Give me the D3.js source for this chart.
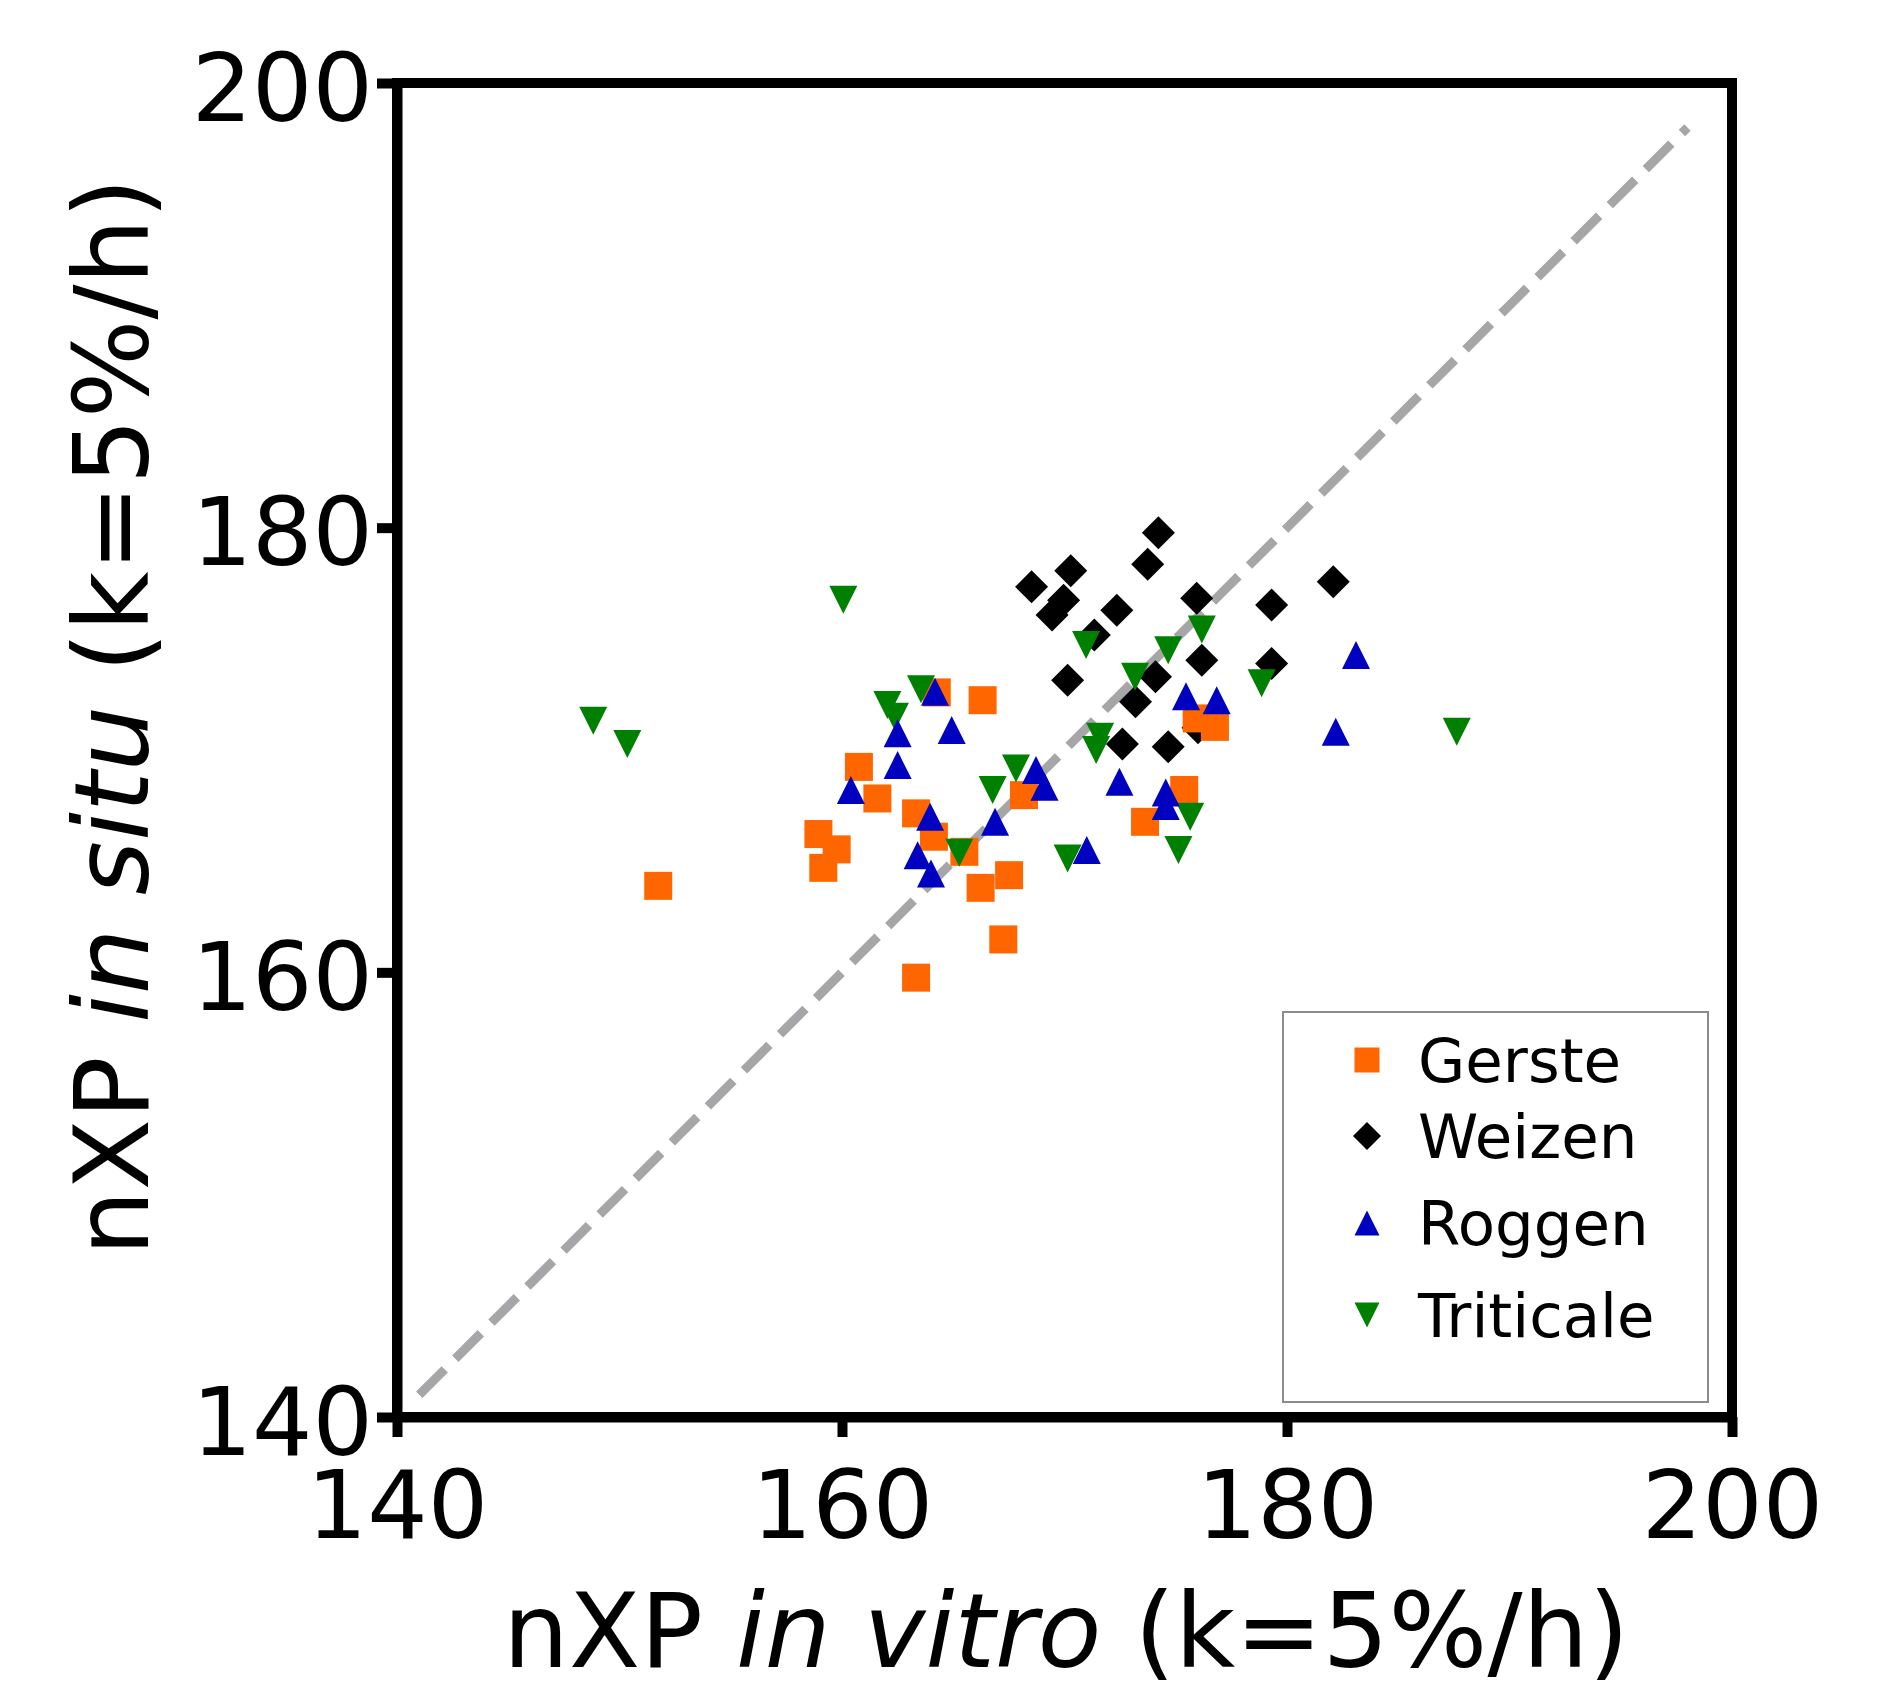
<!DOCTYPE html>
<html>
<head>
<meta charset="utf-8">
<script src="https://cdn.jsdelivr.net/npm/d3@7"></script>
<style>
  body { margin: 0; background: #fff; }
  text { font-family: "DejaVu Sans", Verdana, sans-serif; fill: #000; }
</style>
</head>
<body>
<div id="plot"></div>
<script>
// Chart data
var seriesNames = ["Gerste", "Weizen", "Roggen", "Triticale"];
var axisTicks = [140, 160, 180, 200];
var refLine = [141, 198];

var gersteX = [151.74, 164.26, 166.32, 160.76, 161.59, 168.18, 163.33, 164.13, 158.94, 159.76,
               159.16, 165.50, 167.51, 166.23, 167.25, 163.33, 175.94, 176.76, 175.38, 173.62];
var gersteY = [163.89, 172.59, 172.24, 169.24, 167.82, 167.97, 167.15, 166.10, 166.22, 165.53,
               164.70, 165.42, 164.37, 163.80, 161.48, 159.76, 171.42, 171.04, 168.20, 166.77];

var weizenX = [174.22, 173.74, 170.28, 168.52, 169.96, 169.44, 172.35, 175.94, 179.31, 182.08,
               171.34, 176.17, 179.31, 170.14, 174.09, 173.19, 172.60, 174.66, 176.00];
var weizenY = [179.77, 178.36, 178.06, 177.34, 176.74, 176.07, 176.29, 176.82, 176.52, 177.57,
               175.17, 174.04, 173.89, 173.14, 173.30, 172.17, 170.27, 170.15, 171.00];

var roggenX = [164.18, 162.50, 164.93, 162.50, 160.40, 168.72, 169.10, 163.96, 166.88, 163.40,
               164.00, 183.10, 182.19, 175.46, 176.84, 172.47, 174.55, 174.55, 171.00];
var roggenY = [172.62, 170.75, 170.90, 169.32, 168.20, 169.10, 168.35, 167.00, 166.77, 165.27,
               164.45, 174.27, 170.82, 172.42, 172.24, 168.57, 168.09, 167.48, 165.50];

var triticaleX = [160.06, 148.82, 150.35, 163.55, 162.04, 162.38, 167.82, 166.77, 165.27, 170.97,
                  174.66, 176.17, 173.17, 178.86, 171.60, 171.42, 175.65, 175.12, 170.14, 187.63];
var triticaleY = [176.76, 171.31, 170.27, 172.73, 172.02, 171.50, 169.17, 168.20, 165.38, 174.72,
                  174.49, 175.42, 173.30, 173.00, 170.60, 170.00, 167.00, 165.50, 165.12, 170.82];

// SVG area
var svgWidth = 1881;
var svgHeight = 1691;

// plot box in pixels
var box = { left: 397, right: 1732, top: 83, bottom: 1417 };

var svg = d3.select("#plot")
  .append("svg")
  .attr("width", svgWidth)
  .attr("height", svgHeight);

var xScale = d3.scaleLinear().domain([140, 200]).range([box.left, box.right]);
var yScale = d3.scaleLinear().domain([140, 200]).range([box.bottom, box.top]);

// marker shapes, s = nominal size in px
function markerPath(shape, s) {
  var h = s / 2;
  if (shape === "square") return "M" + (-h) + "," + (-h) + "h" + s + "v" + s + "h" + (-s) + "Z";
  if (shape === "diamond") return "M0," + (-h) + "L" + h + ",0L0," + h + "L" + (-h) + ",0Z";
  if (shape === "up") return "M0," + (-h) + "L" + h + "," + h + "L" + (-h) + "," + h + "Z";
  return "M" + (-h) + "," + (-h) + "L" + h + "," + (-h) + "L0," + h + "Z";
}

var styles = {
  Gerste:    { shape: "square",  color: "#ff6600", size: 28, legendSize: 25 },
  Weizen:    { shape: "diamond", color: "#000000", size: 33, legendSize: 28 },
  Roggen:    { shape: "up",      color: "#0000c0", size: 28, legendSize: 25 },
  Triticale: { shape: "down",    color: "#008000", size: 28, legendSize: 25 }
};

var seriesData = {
  Gerste: gersteX.map((x, i) => ({ x: x, y: gersteY[i] })),
  Weizen: weizenX.map((x, i) => ({ x: x, y: weizenY[i] })),
  Roggen: roggenX.map((x, i) => ({ x: x, y: roggenY[i] })),
  Triticale: triticaleX.map((x, i) => ({ x: x, y: triticaleY[i] }))
};

// 1:1 dashed line
svg.append("line")
  .attr("x1", xScale(refLine[0]))
  .attr("y1", yScale(refLine[0]))
  .attr("x2", xScale(refLine[1]))
  .attr("y2", yScale(refLine[1]))
  .attr("stroke", "#a6a6a8")
  .attr("stroke-width", 9)
  .attr("stroke-dasharray", "36 15");

// points, drawing order as in the picture
["Weizen", "Gerste", "Triticale", "Roggen"].forEach(function(name) {
  var st = styles[name];
  svg.append("g")
    .selectAll("path")
    .data(seriesData[name])
    .enter()
    .append("path")
    .attr("transform", d => `translate(${xScale(d.x)}, ${yScale(d.y)})`)
    .attr("d", markerPath(st.shape, st.size))
    .attr("fill", st.color);
});

// frame
svg.append("rect")
  .attr("x", box.left)
  .attr("y", box.top)
  .attr("width", box.right - box.left)
  .attr("height", box.bottom - box.top)
  .attr("fill", "none")
  .attr("stroke", "#000")
  .attr("stroke-width", 10);

// bottom axis
var bottomAxis = d3.axisBottom(xScale).tickValues(axisTicks).tickSize(20).tickSizeOuter(0);
var gx = svg.append("g")
  .attr("transform", `translate(0, ${box.bottom})`)
  .call(bottomAxis);
gx.select(".domain").attr("stroke-width", 10);
gx.selectAll(".tick line").attr("stroke-width", 10);
gx.selectAll("text")
  .attr("y", 121)
  .attr("dy", "0")
  .style("font-size", "95px")
  .style("font-family", "DejaVu Sans, sans-serif");

// left axis
var leftAxis = d3.axisLeft(yScale).tickValues(axisTicks).tickSize(20).tickSizeOuter(0);
var gy = svg.append("g")
  .attr("transform", `translate(${box.left}, 0)`)
  .call(leftAxis);
gy.select(".domain").attr("stroke-width", 10);
gy.selectAll(".tick line").attr("stroke-width", 10);
gy.selectAll("text")
  .attr("x", -24)
  .attr("dy", "0.39em")
  .style("font-size", "95px")
  .style("font-family", "DejaVu Sans, sans-serif");

// axis titles
var xTitle = svg.append("text")
  .attr("x", 1066)
  .attr("y", 1667)
  .style("text-anchor", "middle")
  .style("font-size", "104px");
xTitle.append("tspan").text("nXP ");
xTitle.append("tspan").style("font-style", "italic").text("in vitro");
xTitle.append("tspan").text(" (k=5%/h)");

var yTitle = svg.append("text")
  .attr("transform", "translate(148, 717) rotate(-90)")
  .style("text-anchor", "middle")
  .style("font-size", "104px");
yTitle.append("tspan").text("nXP ");
yTitle.append("tspan").style("font-style", "italic").text("in situ");
yTitle.append("tspan").text(" (k=5%/h)");

// legend
var legendBox = { x: 1283, y: 1012, w: 425, h: 390 };
var legendBaselines = [1082, 1158, 1245, 1337];

svg.append("rect")
  .attr("x", legendBox.x)
  .attr("y", legendBox.y)
  .attr("width", legendBox.w)
  .attr("height", legendBox.h)
  .attr("fill", "#fff")
  .attr("stroke", "#8c8c8c")
  .attr("stroke-width", 2);

var legendItems = svg.append("g")
  .selectAll("g")
  .data(seriesNames)
  .enter()
  .append("g")
  .attr("transform", (d, i) => `translate(0, ${legendBaselines[i]})`);

legendItems.append("path")
  .attr("transform", "translate(1367, -22)")
  .attr("d", d => markerPath(styles[d].shape, styles[d].legendSize))
  .attr("fill", d => styles[d].color);

legendItems.append("text")
  .attr("x", 1418)
  .attr("y", 0)
  .style("font-size", "61px")
  .text(d => d);
</script>
</body>
</html>
